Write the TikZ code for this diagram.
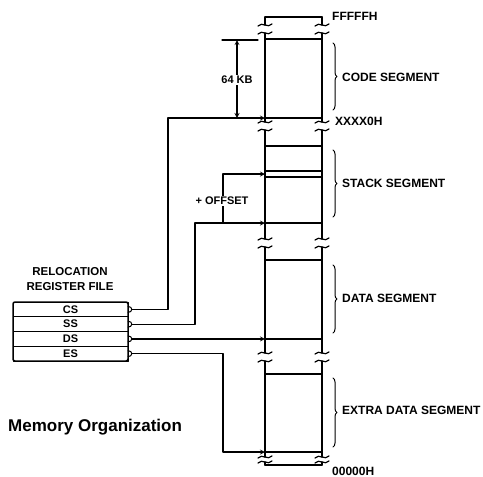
\documentclass[tikz,border=0pt]{standalone}
\usepackage{fontspec}
\setmainfont{Liberation Sans}
\usetikzlibrary{positioning,decorations.pathreplacing}
\tikzset{
  mem/.style={line width=1.5pt},
  conn/.style={line width=1.2pt,->},
  lbl/.style={font=\fontsize{12}{14}\selectfont\bfseries,inner sep=0pt,anchor=west},
  reg/.style={draw,line width=1pt,minimum width=115pt,minimum height=14.75pt,
    inner sep=0pt,outer sep=0pt,font=\fontsize{11}{12}\selectfont\bfseries},
  segbrace/.style={decorate,decoration={brace,amplitude=4pt},line width=1pt},
}
\begin{document}
\begin{tikzpicture}[>=stealth,x=1pt,y=-1pt,line join=round,line cap=round]
\useasboundingbox (0,0) rectangle (483,477);
% memory column
\foreach \a/\b in {17/25,33/122,130/239,247/353,361/457,462/465}{
  \draw[mem] (265,\a) -- (265,\b);
  \draw[mem] (322,\a) -- (322,\b);
}
\foreach \y in {17,39,118,146,171,177,223,260,339,374,452,465}
  \draw[mem] (265,\y) -- (322,\y);
\foreach \y in {25,33,122,130,239,247,353,361,457,462}
  \foreach \x in {265,322}
    \draw[line width=1.2pt] (\x-7,\y+1) .. controls (\x-3,\y-4) and (\x+3,\y+4) .. (\x+7,\y-1);
\foreach \a/\b in {43/110,150/217,265/333,378/447}
  \draw[segbrace] (333,\a) -- (333,\b);
\node[lbl] (top) at (332,16) {FFFFFH};
\node[lbl] (base) at (335,121) {XXXX0H};
\node[lbl] (bot) at (332,471) {00000H};
\node[lbl] (code) at (342,77) {CODE SEGMENT};
\node[lbl] (stack) at (342,183) {STACK SEGMENT};
\node[lbl] (data) at (342,298) {DATA SEGMENT};
\node[lbl] (extra) at (342,410) {EXTRA DATA SEGMENT};
% targets on the column
\coordinate (codebase) at (265,118);
\coordinate (offs) at (265,174);
\coordinate (ssbase) at (265,223);
\coordinate (dsbase) at (265,338.9);
\coordinate (esbase) at (265,452);
% register file
\node[font=\fontsize{11.5}{15}\selectfont\bfseries,align=center] (rft) at (70,279.5)
  {RELOCATION\\REGISTER FILE};
\node[reg] (cs) at (70.5,309.4) {CS};
\node[reg] (ss) [below=0pt of cs] {SS};
\node[reg] (ds) [below=0pt of ss] {DS};
\node[reg] (es) [below=0pt of ds] {ES};
\draw[line width=1.5pt,rounded corners=2pt] (cs.north west) rectangle (es.south east);
\foreach \r in {cs,ss,ds,es}
  \draw[line width=1pt] ([yshift=3pt]\r.east) .. controls +(5,0) and +(5,0) .. ([yshift=-3pt]\r.east);
% connectors
\draw[conn] ([xshift=4pt]cs.east) -| ([xshift=-97pt]codebase) -- (codebase);
\draw[conn] ([xshift=4pt]ss.east) -| ([xshift=-70pt]ssbase) -- (ssbase);
\draw[conn] ([xshift=-42pt]ssbase) |- (offs);
\draw[conn] ([xshift=4pt]ds.east) -- (dsbase);
\draw[conn] ([xshift=4pt]es.east) -| ([xshift=-42pt]esbase) -- (esbase);
\node[fill=white,inner sep=1pt,font=\fontsize{11}{13}\selectfont\bfseries] (offset) at (222,201) {+ OFFSET};
% 64 KB
\draw[line width=1.2pt] (222,40) -- (258,40);
\draw[line width=1.2pt,<->] (237,40) -- (237,118);
\node[fill=white,inner sep=1pt,font=\fontsize{11}{13}\selectfont\bfseries] (kb) at (237,80) {64 KB};
\node[anchor=west,inner sep=0pt,font=\fontsize{17}{20}\selectfont\bfseries] (title) at (8,427) {Memory Organization};
\end{tikzpicture}
\end{document}
